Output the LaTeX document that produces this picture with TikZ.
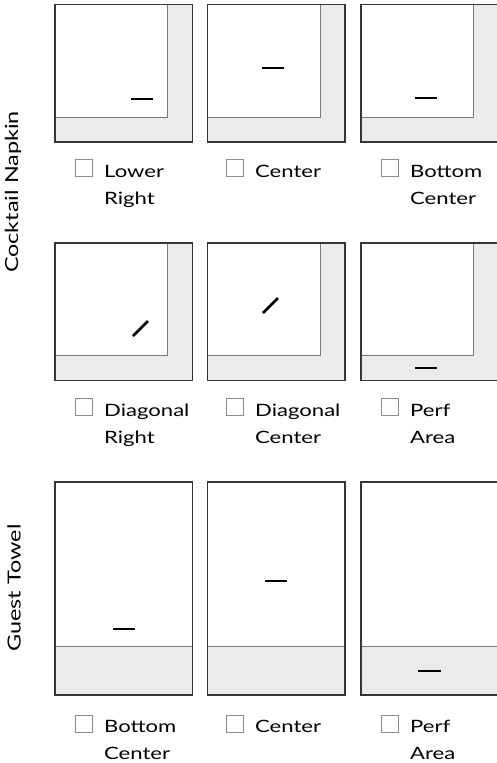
\documentclass[tikz,border=0pt]{standalone}
\usepackage{fontspec}
\setmainfont{Lato}[FakeStretch=1.3]
\definecolor{perfgray}{HTML}{EBEBEB}
\definecolor{edgegray}{HTML}{363636}
\definecolor{foldgray}{HTML}{7A7A7A}
\definecolor{chkgray}{HTML}{8C8C8C}

\begin{document}
\begin{tikzpicture}[x=1pt, y=-1pt,
  outline/.style={draw=edgegray, line width=1.4pt},
  fold/.style={draw=foldgray, line width=0.8pt},
  stitch/.style={line width=2.6pt, line cap=butt},
  chk/.style={draw=chkgray, line width=0.8pt, minimum size=17pt, inner sep=0pt},
  lbl/.style={anchor=base west, align=left, inner sep=0pt,
    font=\fontsize{17}{27}\selectfont},
  side/.style={rotate=90, inner sep=0pt, font=\fontsize{18}{20}\selectfont}]
  \useasboundingbox (0,0) rectangle (496,763);

  % napkins
  \foreach \x in {55,207.5,361}
    \foreach \y in {4.5,243} {
      \fill[perfgray] (\x,\y) rectangle ++(137.5,137.5);
      \fill[white] (\x,\y) rectangle ++(112.5,112.5);
      \draw[fold] (\x,\y+112.5) -| (\x+112.5,\y);
      \draw[outline] (\x,\y) rectangle ++(137.5,137.5);
    }
  % towels
  \foreach \x in {55,207.5,361} {
    \fill[white] (\x,482) rectangle ++(137.5,213);
    \fill[perfgray] (\x,646) rectangle ++(137.5,49);
    \draw[fold] (\x,646) -- ++(137.5,0);
    \draw[outline] (\x,482) rectangle ++(137.5,213);
  }

  % stitch marks
  \draw[stitch] (131,99) -- (153,99);
  \draw[stitch] (262,68) -- (284,68);
  \draw[stitch] (415,98) -- (437,98);
  \draw[stitch] (133,336) -- (148,321);
  \draw[stitch] (263,313) -- (278,298);
  \draw[stitch] (415,368) -- (437,368);
  \draw[stitch] (113,629) -- (135,629);
  \draw[stitch] (265,581) -- (287,581);
  \draw[stitch] (418,671) -- (441,671);

  % options (two-line labels sit on the baseline of their last line)
  \node[chk] (lr) at (83.5,168) {};
  \node[lbl] (lrtext) at (104,204) {Lower\\Right};
  \node[chk] (c) at (235,168) {};
  \node[lbl] (ctext) at (255,177) {Center};
  \node[chk] (bc) at (389.5,168) {};
  \node[lbl] (bctext) at (410,204) {Bottom\\Center};

  \node[chk] (dr) at (83.5,406.5) {};
  \node[lbl] (drtext) at (104,443) {Diagonal\\Right};
  \node[chk] (dc) at (235,406.5) {};
  \node[lbl] (dctext) at (255,443) {Diagonal\\Center};
  \node[chk] (pa) at (389.5,406.5) {};
  \node[lbl] (patext) at (410,443) {Perf\\Area};

  \node[chk] (tbc) at (83.5,723.5) {};
  \node[lbl] (tbctext) at (104,759) {Bottom\\Center};
  \node[chk] (tc) at (235,723.5) {};
  \node[lbl] (tctext) at (255,732) {Center};
  \node[chk] (tpa) at (389.5,723.5) {};
  \node[lbl] (tpatext) at (410,759) {Perf\\Area};

  \node[side] (napkin) at (13,192) {Cocktail Napkin};
  \node[side] (towel) at (14,588) {Guest Towel};
\end{tikzpicture}
\end{document}
